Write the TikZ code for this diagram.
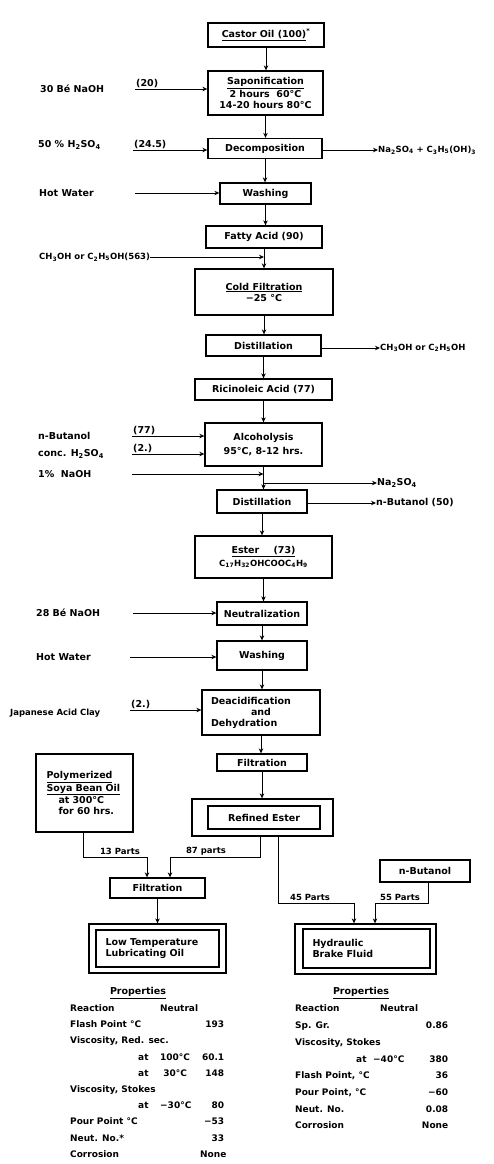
\documentclass[tikz,border=0pt]{standalone}
\usepackage{fontspec}
\setmainfont{DejaVu Sans}
\usepackage{array}
\usetikzlibrary{arrows.meta}
\newcommand\fs{\fontsize{9.5}{11}\selectfont\bfseries}
\newcommand\fsm{\fontsize{8.5}{10}\selectfont\bfseries}
\newcommand\ft{\fontsize{9}{16.2}\selectfont\bfseries}
\newcommand\ftr{\fontsize{9}{16.7}\selectfont\bfseries}
\newcommand\sbs[1]{\textsubscript{#1}}
\tikzset{
  box/.style={draw, line width=1.3pt, rectangle, inner sep=1pt, align=center, font=\fs},
  obox/.style={draw, line width=1.3pt, rectangle, inner sep=0pt},
  arr/.style={line width=1pt, -{Stealth[length=5pt,width=4.5pt]}},
  lbl/.style={anchor=west, inner sep=0pt, font=\fs},
  num/.style={anchor=south west, inner sep=1pt, font=\fs},
  part/.style={anchor=south, inner sep=1pt, font=\fsm},
}
\begin{document}
\begin{tikzpicture}[x=1pt,y=-1pt]
\useasboundingbox (0,0) rectangle (494,1164);

% main column
\node[box, minimum width=116pt, minimum height=24pt] (castor) at (266,35) {\underline{Castor Oil (100)}\textsuperscript{*}};
\node[box, minimum width=115pt, minimum height=44pt] (sapon) at (265.5,93) {\underline{Saponification}\\2 hours \ 60°C\\14-20 hours 80°C};
\node[box, minimum width=114pt, minimum height=20pt] (decomp) at (265,148.5) {Decomposition};
\node[box, minimum width=91pt, minimum height=21pt] (wash1) at (265.5,193.5) {Washing};
\node[box, minimum width=116pt, minimum height=22pt] (fatty) at (264,237) {Fatty Acid (90)};
\node[box, minimum width=138pt, minimum height=46pt] (coldf) at (264,292) {\underline{Cold Filtration}\\−25 °C};
\node[box, minimum width=115pt, minimum height=21pt] (dist1) at (263.5,345.5) {Distillation};
\node[box, minimum width=137pt, minimum height=21pt] (ricin) at (263.5,389.5) {Ricinoleic Acid (77)};
\node[box, minimum width=117pt, minimum height=43pt] (alco) at (263.5,444.5) {Alcoholysis\\[3pt]95°C, 8-12 hrs.};
\node[box, minimum width=90pt, minimum height=23pt] (dist2) at (262,501.5) {Distillation};
\node[box, minimum width=137pt, minimum height=42pt] (ester) at (263.5,557) {\underline{Ester\hspace{1.5em}(73)}\\[2pt]{\fsm C\sbs{17}H\sbs{32}OHCOOC\sbs{4}H\sbs{9}}};
\node[box, minimum width=90pt, minimum height=23pt] (neut) at (262,613.5) {Neutralization};
\node[box, minimum width=90pt, minimum height=29pt] (wash2) at (262,655.5) {Washing};
\node[box, minimum width=118pt, minimum height=45pt, align=left, text width=100pt] (deacid) at (261,712.5) {Deacidification\\\hspace{40pt}and\\Dehydration};
\node[box, minimum width=90pt, minimum height=17pt] (filt1) at (262,762.5) {Filtration};
\node[obox, minimum width=141pt, minimum height=37pt] (refo) at (262.5,817.5) {};
\node[box, minimum width=112pt, minimum height=23pt] (ref) at (264,817.5) {Refined Ester};

% lower branches
\node[box, minimum width=97pt, minimum height=78pt, align=left, text width=76pt] (soya) at (84.5,793) {\underline{Polymerized}\\\underline{Soya Bean Oil}\\\hspace{12pt}at 300°C\\\hspace{12pt}for 60 hrs.};
\node[box, minimum width=95pt, minimum height=20pt] (filt2) at (157.5,888) {Filtration};
\node[box, minimum width=90pt, minimum height=22pt] (nbut) at (425,871) {n-Butanol};
\node[obox, minimum width=137pt, minimum height=49pt] (ltlo) at (157.5,948.5) {};
\node[box, minimum width=123pt, minimum height=37pt, align=left, text width=104pt] (ltloi) at (157.5,948.5) {Low Temperature\\Lubricating Oil};
\node[obox, minimum width=141pt, minimum height=50pt] (hbfo) at (365.5,949) {};
\node[box, minimum width=127pt, minimum height=39pt, align=left, text width=108pt] (hbf) at (366.5,948.5) {Hydraulic\\Brake Fluid};

% main vertical connectors
\draw[arr] (castor.south) -- (castor.south |- sapon.north);
\draw[arr] (sapon.south) -- (sapon.south |- decomp.north);
\draw[arr] (decomp.south) -- (decomp.south |- wash1.north);
\draw[arr] (wash1.south) -- (wash1.south |- fatty.north);
\draw[arr] (fatty.south) -- (fatty.south |- coldf.north);
\draw[arr] (coldf.south) -- (coldf.south |- dist1.north);
\draw[arr] (dist1.south) -- (dist1.south |- ricin.north);
\draw[arr] (ricin.south) -- (ricin.south |- alco.north);
\draw[arr] (alco.south) -- (alco.south |- dist2.north);
\draw[arr] (dist2.south) -- (dist2.south |- ester.north);
\draw[arr] (ester.south) -- (ester.south |- neut.north);
\draw[arr] (neut.south) -- (neut.south |- wash2.north);
\draw[arr] (wash2.south) -- (wash2.south |- deacid.north);
\draw[arr] (deacid.south) -- (deacid.south |- filt1.north);
\draw[arr] (filt1.south) -- (filt1.south |- refo.north);

% left inputs
\node[lbl] (naoh1) at (40,89) {30 Bé NaOH};
\node[num] (q20) at (135,89) {(20)};
\draw[arr] (q20.south west) -- (q20.south west -| sapon.west);

\node[lbl] (h2so4) at (38,145) {50 \% H\sbs{2}SO\sbs{4}};
\node[num] (q245) at (133,150) {(24.5)};
\draw[arr] (q245.south west) -- (q245.south west -| decomp.west);

\node[lbl] (hw1) at (39,193) {Hot Water};
\coordinate (c1) at (135,193);
\draw[arr] (c1) -- (c1 -| wash1.west);

\node[lbl, font=\fsm] (meth) at (39,257) {CH\sbs{3}OH or C\sbs{2}H\sbs{5}OH(563)};
\draw[arr] (meth.east) -- (meth.east -| fatty.south);

\node[lbl] (nbutl) at (38,436) {n-Butanol};
\node[num] (q77) at (132,436) {(77)};
\draw[arr] (q77.south west) -- (q77.south west -| alco.west);

\node[lbl] (conc) at (38,454) {conc. H\sbs{2}SO\sbs{4}};
\node[num] (q2a) at (132,454) {(2.)};
\draw[arr] (q2a.south west) -- (q2a.south west -| alco.west);

\node[lbl] (naoh2) at (38,474) {1\% \ NaOH};
\coordinate (c2) at (132,474);
\draw[arr] (c2) -- (c2 -| alco.south);

\node[lbl] (naoh3) at (36,613) {28 Bé NaOH};
\coordinate (c3) at (133,613);
\draw[arr] (c3) -- (c3 -| neut.west);

\node[lbl] (hw2) at (36,657) {Hot Water};
\coordinate (c4) at (130,657);
\draw[arr] (c4) -- (c4 -| wash2.west);

\node[lbl, font=\fsm] (clay) at (10,713) {Japanese Acid Clay};
\node[num] (q2b) at (130,710) {(2.)};
\draw[arr] (q2b.south west) -- (q2b.south west -| deacid.west);

% right outputs
\node[lbl, font=\fsm] (out1) at (378,150) {Na\sbs{2}SO\sbs{4} + C\sbs{3}H\sbs{5}(OH)\sbs{3}};
\draw[arr] (out1.west -| decomp.east) -- (out1.west);

\node[lbl, font=\fsm] (out2) at (380,348) {CH\sbs{3}OH or C\sbs{2}H\sbs{5}OH};
\draw[arr] (out2.west -| dist1.east) -- (out2.west);

\node[lbl] (out3) at (377,483) {Na\sbs{2}SO\sbs{4}};
\draw[arr] (out3.west -| alco.south) -- (out3.west);

\node[lbl] (out4) at (376,503) {n-Butanol (50)};
\draw[arr] (out4.west -| dist2.east) -- (out4.west);

% lower connectors
\draw[arr] ([xshift=-1.5pt]soya.south) -- ++(0,25) -| ([xshift=-10.5pt]filt2.north);
\draw[arr] ([xshift=-2.5pt]refo.south) -- ++(0,21) -| ([xshift=12.5pt]filt2.north);
\draw[arr] ([xshift=15.5pt]refo.south) -- ++(0,67) -| ([xshift=-11.5pt]hbfo.north);
\draw[arr] ([xshift=3pt]nbut.south) -- ++(0,21) -| ([xshift=9.5pt]hbfo.north);
\draw[arr] (filt2.south) -- (filt2.south |- ltlo.north);
\node[part] (p13) at (120,856) {13 Parts};
\node[part] (p87) at (206,856) {87 parts};
\node[part] (p45) at (310,902) {45 Parts};
\node[part] (p55) at (400,902) {55 Parts};

% properties
\node[font=\fs] (propL) at (138,993) {\underline{Properties}};
\node[anchor=north west, inner sep=0pt, font=\ft] (tabL) at (70,1000) {%
\begin{tabular}{@{}p{68pt}@{}p{22pt}@{}p{40pt}@{}>{\raggedleft\arraybackslash}p{24pt}@{}}
Reaction & & \multicolumn{2}{@{}l@{}}{Neutral}\\
\multicolumn{3}{@{}l}{Flash Point °C} & 193\\
\multicolumn{4}{@{}l@{}}{Viscosity, Red. sec.}\\
 & at & 100°C & 60.1\\
 & at & \ 30°C & 148\\
\multicolumn{4}{@{}l@{}}{Viscosity, Stokes}\\
 & at & −30°C & 80\\
\multicolumn{3}{@{}l}{Pour Point °C} & −53\\
\multicolumn{3}{@{}l}{Neut. No.*} & 33\\
\multicolumn{3}{@{}l}{Corrosion} & None\\
\end{tabular}};

\node[font=\fs] (propR) at (361,993) {\underline{Properties}};
\node[anchor=north west, inner sep=0pt, font=\ftr] (tabR) at (295,1000) {%
\begin{tabular}{@{}p{61pt}@{}p{17pt}@{}p{37pt}@{}>{\raggedleft\arraybackslash}p{38pt}@{}}
Reaction & & \multicolumn{2}{@{}l@{}}{\hspace{7pt}Neutral}\\
\multicolumn{3}{@{}l}{Sp. Gr.} & 0.86\\
\multicolumn{4}{@{}l@{}}{Viscosity, Stokes}\\
 & at & −40°C & 380\\
\multicolumn{3}{@{}l}{Flash Point, °C} & 36\\
\multicolumn{3}{@{}l}{Pour Point, °C} & −60\\
\multicolumn{3}{@{}l}{Neut. No.} & 0.08\\
\multicolumn{3}{@{}l}{Corrosion} & None\\
\end{tabular}};
\end{tikzpicture}
\end{document}
